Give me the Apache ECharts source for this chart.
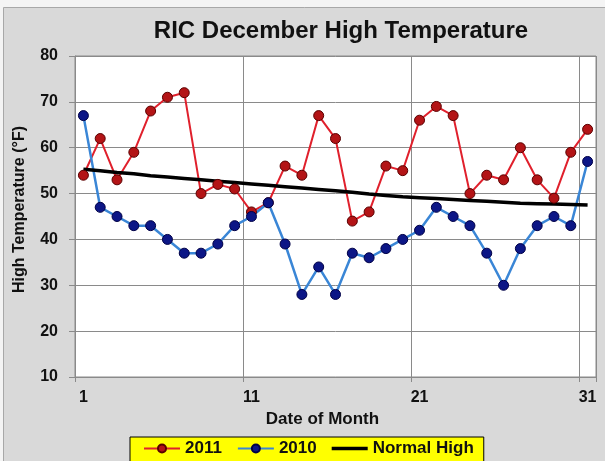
<!DOCTYPE html>
<html>
<head>
    <meta charset="UTF-8">
    <title>RIC December High Temperature</title>
    <script src="https://cdn.jsdelivr.net/npm/echarts@6/dist/echarts.min.js"></script>
    <style type="text/css">
    * {
        margin: 0;
        padding: 0;
    }
    body {
        background-color: #f4f4f4;
    }
    #chart {
        width: 605px;
        height: 461px;
    }
    </style>
</head>
<body>
    <div id="chart"></div>
    <script>
        // day of month (categories)
        var days = ['1','2','3','4','5','6','7','8','9','10','11','12','13','14','15','16',
                    '17','18','19','20','21','22','23','24','25','26','27','28','29','30','31'];
        // daily highs
        var highs2011 = [54, 62, 53, 59, 68, 71, 72, 50, 52, 51, 46, 48, 56, 54, 67, 62,
                         44, 46, 56, 55, 66, 69, 67, 50, 54, 53, 60, 53, 49, 59, 64];
        var highs2010 = [67, 47, 45, 43, 43, 40, 37, 37, 39, 43, 45, 48, 39, 28, 34, 28,
                         37, 36, 38, 40, 42, 47, 45, 43, 37, 30, 38, 43, 45, 43, 57];
        var normalHigh = [55.3, 55.0, 54.6, 54.3, 53.9, 53.6, 53.3, 53.0, 52.7, 52.4, 52.1,
                          51.8, 51.5, 51.2, 50.9, 50.6, 50.3, 49.9, 49.6, 49.3, 49.1, 48.9,
                          48.7, 48.5, 48.3, 48.1, 47.9, 47.8, 47.7, 47.6, 47.5];

        var font = '"Liberation Sans", Arial, sans-serif';
        // plain bar for the legend of the normal line (the two moveTo's keep the box 36x10)
        var lineIcon = 'path://M0,0 M36,10 M0,3.3 L36,3.3 L36,6.7 L0,6.7 Z';

        var chart = echarts.init(document.getElementById('chart'), null, {renderer: 'canvas'});

        chart.setOption({
            animation: false,
            backgroundColor: '#f4f4f4',
            // gray chart area behind everything
            graphic: [{
                type: 'rect',
                z: -10,
                shape: {x: 3.5, y: 7.5, width: 610, height: 470},
                style: {fill: '#d9d9d9', stroke: '#a8a8a8', lineWidth: 1}
            }],
            title: {
                text: 'RIC December High Temperature',
                left: 341,
                top: 19,
                textAlign: 'center',
                padding: 0,
                textStyle: {fontFamily: font, fontSize: 24, fontWeight: 'bold', color: '#111'}
            },
            grid: {
                left: 75,
                top: 56,
                right: 9,
                bottom: 84,
                show: true,
                backgroundColor: '#ffffff',
                borderColor: '#8a8a8a',
                borderWidth: 1
            },
            legend: {
                left: 130,
                top: 437,
                padding: [3, 10, 5, 13],
                itemGap: 15,
                itemWidth: 36,
                itemHeight: 10,
                backgroundColor: '#ffff00',
                borderColor: '#000',
                borderWidth: 1,
                textStyle: {fontFamily: font, fontSize: 17, fontWeight: 'bold', color: '#111'},
                data: ['2011', '2010', {name: 'Normal High', icon: lineIcon}]
            },
            xAxis: {
                type: 'category',
                data: days,
                boundaryGap: true,
                name: 'Date of Month',
                nameLocation: 'middle',
                nameGap: 28,
                nameTextStyle: {fontFamily: font, fontSize: 17, fontWeight: 'bold', color: '#111', padding: [0, 26, 0, 0]},
                axisLine: {lineStyle: {color: '#8a8a8a'}},
                axisTick: {show: true, length: 5, lineStyle: {color: '#8a8a8a'}},
                axisLabel: {interval: 9, margin: 13, fontFamily: font, fontSize: 16, fontWeight: 'bold', color: '#111'},
                splitLine: {show: true, lineStyle: {color: '#8a8a8a', width: 1}}
            },
            yAxis: {
                type: 'value',
                min: 10,
                max: 80,
                interval: 10,
                name: 'High Temperature (\u00b0F)',
                nameLocation: 'middle',
                nameGap: 47,
                nameTextStyle: {fontFamily: font, fontSize: 16, fontWeight: 'bold', color: '#111', padding: [0, 0, 0, 14]},
                axisLine: {show: true, lineStyle: {color: '#8a8a8a'}},
                axisTick: {show: true, length: 6, lineStyle: {color: '#8a8a8a'}},
                axisLabel: {margin: 17, fontFamily: font, fontSize: 16, fontWeight: 'bold', color: '#111'},
                splitLine: {show: true, lineStyle: {color: '#8a8a8a', width: 1}}
            },
            series: [
                {
                    name: '2011',
                    type: 'line',
                    data: highs2011,
                    symbol: 'circle',
                    symbolSize: 10,
                    lineStyle: {color: '#e0202c', width: 2},
                    itemStyle: {color: '#b31416', borderColor: '#5a0000', borderWidth: 1}
                },
                {
                    name: '2010',
                    type: 'line',
                    data: highs2010,
                    symbol: 'circle',
                    symbolSize: 10,
                    lineStyle: {color: '#3a86d6', width: 2.5},
                    itemStyle: {color: '#0c1686', borderColor: '#000046', borderWidth: 1}
                },
                {
                    name: 'Normal High',
                    type: 'line',
                    data: normalHigh,
                    symbol: 'none',
                    lineStyle: {color: '#000', width: 3.5},
                    itemStyle: {color: '#000'}
                }
            ]
        });
    </script>
</body>
</html>
